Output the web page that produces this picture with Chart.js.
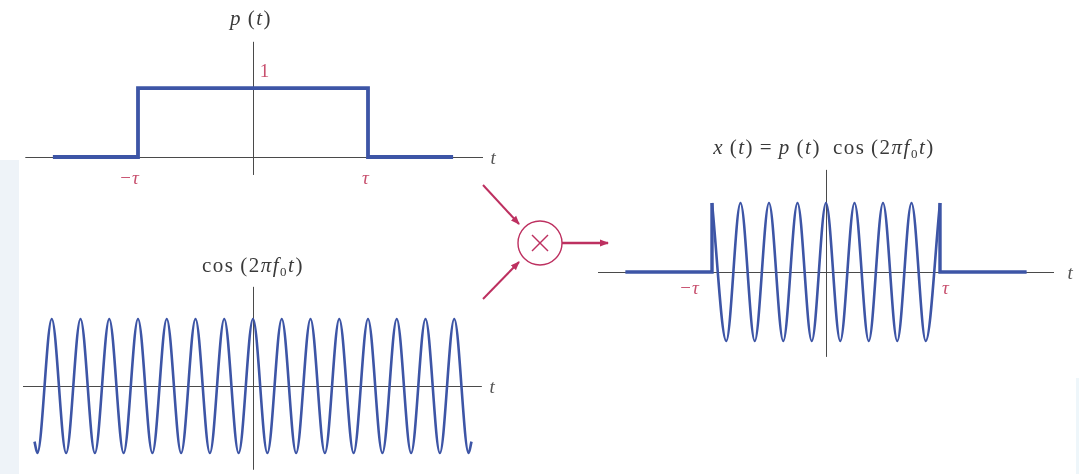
<!DOCTYPE html>
<html>
<head>
<meta charset="utf-8">
<script src="https://cdn.jsdelivr.net/npm/chart.js@4"></script>
<style>
  body { margin:0; background:#fff; }
  #page { position:relative; width:1079px; height:474px; overflow:hidden; background:#fff; }
  .box { position:absolute; }
  .lbl { position:absolute; transform:translate(-50%,-50%); font-family:"Liberation Serif", "DejaVu Serif", serif; font-size:21px; letter-spacing:1.5px; color:#3a3a3a; white-space:nowrap; line-height:1; }
  .red { color:#c8506e; font-size:19px; letter-spacing:1px; }
  .tt { color:#555; font-style:italic; font-size:19px; }
  sub { font-size:13px; vertical-align:-4px; }
</style>
</head>
<body>
<div id="page">
  <div style="position:absolute;left:0;top:160px;width:19px;height:314px;background:#eef3f8"></div>
  <div style="position:absolute;left:1076px;top:378px;width:3px;height:96px;background:#eef6fa"></div>

  <div class="box" style="left:23px;top:30px;width:460px;height:160px"><canvas id="pulse" width="460" height="160"></canvas></div>
  <div class="box" style="left:23px;top:280px;width:460px;height:194px"><canvas id="carrier" width="460" height="194"></canvas></div>
  <div class="box" style="left:598px;top:160px;width:456px;height:210px"><canvas id="product" width="456" height="210"></canvas></div>

  <svg style="position:absolute;left:0;top:0" width="1079" height="474">
    <defs>
      <marker id="ah" markerWidth="9" markerHeight="8" refX="8" refY="4" orient="auto" markerUnits="userSpaceOnUse">
        <path d="M0,0.5 L9,4 L0,7.5 Z" fill="#bd3060"/>
      </marker>
    </defs>
    <g stroke="#bd3060" stroke-width="2" fill="none">
      <line x1="483" y1="185" x2="519" y2="224" marker-end="url(#ah)"/>
      <line x1="483" y1="299" x2="519" y2="262" marker-end="url(#ah)"/>
      <line x1="562" y1="243" x2="608" y2="243" stroke-width="2.6" marker-end="url(#ah)"/>
      <circle cx="540" cy="243" r="22" stroke-width="1.4"/>
      <line x1="532" y1="235" x2="548" y2="251" stroke-width="1.4"/>
      <line x1="548" y1="235" x2="532" y2="251" stroke-width="1.4"/>
    </g>
  </svg>

  <div class="lbl" style="left:251px;top:18px"><i>p</i>&#8201;(<i>t</i>)</div>
  <div class="lbl red" style="left:265px;top:70px">1</div>
  <div class="lbl red" style="left:130px;top:177px">&minus;<i>&tau;</i></div>
  <div class="lbl red" style="left:366px;top:177px"><i>&tau;</i></div>
  <div class="lbl tt" style="left:494px;top:157px">t</div>

  <div class="lbl" style="left:253px;top:266px">cos&#8201;(2<i>&pi;f</i><sub>0</sub><i>t</i>)</div>
  <div class="lbl tt" style="left:493px;top:386px">t</div>

  <div class="lbl" style="left:824px;top:148px"><i>x</i>&#8201;(<i>t</i>)&#8201;=&#8201;<i>p</i>&#8201;(<i>t</i>)&#8194;cos&#8201;(2<i>&pi;f</i><sub>0</sub><i>t</i>)</div>
  <div class="lbl red" style="left:690px;top:287px">&minus;<i>&tau;</i></div>
  <div class="lbl red" style="left:946px;top:287px"><i>&tau;</i></div>
  <div class="lbl tt" style="left:1071px;top:272px">t</div>
</div>

<script>
// time in units of tau, amplitudes normalised to 1
const pulseT = [-1.74, -1, -1, 1, 1, 1.74];
const pulseY = [0, 0, 1, 1, 0, 0];

// carrier: read peaks / troughs, plus the two end hooks
const carrierT = [-1.90, -1.875, -1.75, -1.625, -1.5, -1.375, -1.25, -1.125, -1.0, -0.875, -0.75, -0.625, -0.5, -0.375, -0.25, -0.125,
                  0, 0.125, 0.25, 0.375, 0.5, 0.625, 0.75, 0.875, 1.0, 1.125, 1.25, 1.375, 1.5, 1.625, 1.75, 1.875, 1.90];
const carrierY = [-0.83, -1, 1, -1, 1, -1, 1, -1, 1, -1, 1, -1, 1, -1, 1, -1,
                  1, -1, 1, -1, 1, -1, 1, -1, 1, -1, 1, -1, 1, -1, 1, -1, -0.83];

// product x(t): flat parts + edges, and the burst between -tau and tau
const leftT = [-1.76, -1, -1];
const leftY = [0, 0, 1];
const burstT = [-1, -0.875, -0.75, -0.625, -0.5, -0.375, -0.25, -0.125, 0, 0.125, 0.25, 0.375, 0.5, 0.625, 0.75, 0.875, 1];
const burstY = [1, -1, 1, -1, 1, -1, 1, -1, 1, -1, 1, -1, 1, -1, 1, -1, 1];
const rightT = [1, 1, 1.76];
const rightY = [1, 0, 0];

const BLUE = '#3d55a6';

function pts(ts, ys){
	return ts.map((t, i) => ({x: t, y: ys[i]}));
}

// draws the t axis and the vertical axis through zero
const axesPlugin = {
	id: 'axes',
	beforeDatasetsDraw(chart, args, opts){
		const ctx = chart.ctx;
		const xs = chart.scales.x, ys = chart.scales.y;
		ctx.save();
		ctx.strokeStyle = '#4a4a4a';
		ctx.lineWidth = 1;
		ctx.beginPath();
		let y0 = Math.round(ys.getPixelForValue(0)) + 0.5;
		ctx.moveTo(xs.getPixelForValue(opts.h[0]), y0);
		ctx.lineTo(xs.getPixelForValue(opts.h[1]), y0);
		let x0 = Math.round(xs.getPixelForValue(0)) + 0.5;
		ctx.moveTo(x0, ys.getPixelForValue(opts.v[0]));
		ctx.lineTo(x0, ys.getPixelForValue(opts.v[1]));
		ctx.stroke();
		ctx.restore();
	}
};

function makeChart(id, datasets, ymin, ymax, h, v){
	return new Chart(document.getElementById(id), {
		type: 'scatter',
		data: {datasets: datasets},
		options: {
			responsive: false,
			animation: false,
			layout: {padding: 0},
			plugins: {legend: {display: false}, tooltip: {enabled: false}, axes: {h: h, v: v}},
			scales: {
				x: {type: 'linear', min: -2, max: 2, display: false},
				y: {type: 'linear', min: ymin, max: ymax, display: false}
			}
		},
		plugins: [axesPlugin]
	});
}

function ds(data, width, smooth){
	return {
		data: data,
		showLine: true,
		borderColor: BLUE,
		borderWidth: width,
		pointRadius: 0,
		fill: false,
		tension: 0,
		cubicInterpolationMode: smooth ? 'monotone' : 'default',
		borderJoinStyle: 'miter',
		clip: false
	};
}

makeChart('pulse', [ds(pts(pulseT, pulseY), 3.8, false)], -0.478, 1.841, [-1.98, 2.0], [1.67, -0.26]);
makeChart('carrier', [ds(pts(carrierT, carrierY), 2.6, true)], -1.313, 1.582, [-2.0, 1.99], [1.48, -1.25]);
makeChart('product', [
	ds(pts(leftT, leftY), 3.4, false),
	ds(pts(burstT, burstY), 2.6, true),
	ds(pts(rightT, rightY), 3.4, false)
], -1.420, 1.623, [-2.0, 2.0], [1.48, -1.23]);
</script>
</body>
</html>
